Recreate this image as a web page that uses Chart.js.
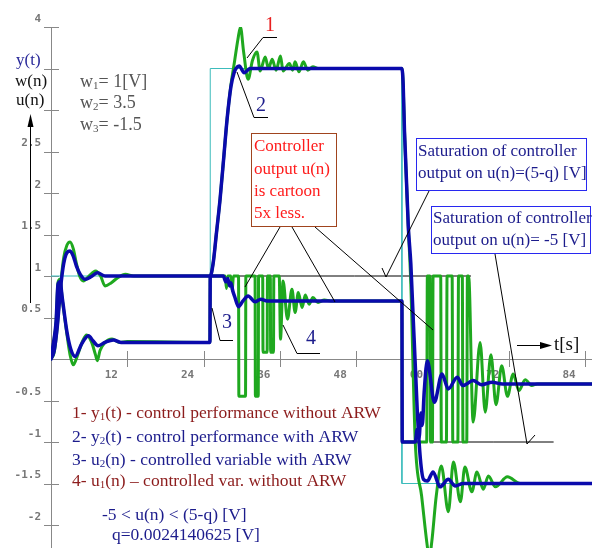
<!DOCTYPE html>
<html>
<head>
<title>ARW step response</title>
<script src="https://cdn.jsdelivr.net/npm/chart.js"></script>
<style>
  body { margin: 0; background: #fff; }
  canvas { display: block; }
</style>
</head>
<body>
<canvas id="arwChart" width="592" height="548"></canvas>
<script>
// setpoint w(n)
const wT = [0, 25.05, 25.05, 55.2, 55.2, 85.1];
const wV = [1, 1, 3.5, 3.5, -1.5, -1.5];

// y1(t) - without ARW (green)
const y1T = [0, 0.5, 1, 1.5, 2, 2.5, 3, 3.5, 4, 4.5, 5.1, 6, 7, 7.8, 8.5, 9.5, 10.5, 11.7, 13, 25.05,
  25.5, 26, 26.6, 27.2, 27.7, 28.3, 28.9, 29.4, 29.8, 30.3, 31, 31.7, 32.4, 32.9, 33.7, 34.2, 34.8, 35.4,
  36.1, 36.5, 37.5, 38, 38.4, 39, 39.7, 40.4, 41.2, 42, 55.2, 55.4, 55.6, 56.2, 56.6, 57.3, 58.3, 59.2,
  59.5, 59.9, 60.6, 61.4, 62.5, 63.3, 64.4, 65.1, 66.2, 67, 68, 68.8, 69.9, 71.8, 73.8, 85.1];
const y1V = [0, 0.08, 0.4, 0.88, 1.22, 1.37, 1.41, 1.33, 1.15, 1.0, 0.94, 1.0, 1.06, 1.0, 0.88, 0.92, 0.98, 1.02, 1.0, 1.0,
  1.15, 1.5, 1.93, 2.45, 2.89, 3.3, 3.6, 3.85, 4.0, 3.7, 3.37, 3.6, 3.7, 3.47, 3.64, 3.5, 3.61, 3.48,
  3.65, 3.47, 3.56, 3.48, 3.58, 3.46, 3.58, 3.48, 3.52, 3.5, 3.5, 3.3, 2.75, 1.6, 0.9, -1.0, -1.65, -2.26,
  -2.4, -2.2, -1.65, -1.29, -1.84, -1.24, -1.72, -1.3, -1.6, -1.36, -1.57, -1.41, -1.54, -1.42, -1.5, -1.5];

// y2(t) - with ARW (blue)
const y2T = [0, 0.5, 1, 1.5, 2, 2.5, 3, 3.5, 4, 4.6, 5.4, 6.3, 7.3, 8.5, 10, 12, 25.05,
  25.5, 26, 26.6, 27.2, 27.7, 28.3, 28.8, 29.1, 29.6, 30.4, 31.3, 55.2, 55.4, 55.6, 56.2, 56.6, 57.6,
  58.1, 58.6, 59.2, 60.1, 61.2, 62.5, 63.6, 64.8, 85.1];
const y2V = [0, 0.1, 0.4, 0.85, 1.15, 1.28, 1.3, 1.24, 1.12, 1.02, 0.96, 0.99, 1.04, 1.0, 1.0, 1.0, 1.0,
  1.15, 1.5, 1.93, 2.45, 2.89, 3.28, 3.45, 3.5, 3.53, 3.45, 3.5, 3.5, 3.3, 2.75, 1.6, 1.15, -0.6,
  -1.2, -1.45, -1.47, -1.36, -1.54, -1.45, -1.53, -1.5, -1.5];

// u1(n)/5 - without ARW (green)
const u1T = [0, 0.4, 0.8, 1.1, 1.4, 1.8, 2.5, 3, 3.5, 4.2, 5, 5.6, 6.4, 7, 7.3, 7.7, 8.5, 9.6, 10.8, 12, 25.0,
  25.05, 27.4, 27.6, 27.8, 28.3, 28.5, 28.7, 29.5, 29.55, 30.6, 30.65, 32.1, 32.15, 32.6, 32.65, 33.3,
  33.35, 34.0, 34.05, 34.5, 34.55, 35.0, 35.05, 35.9, 36.1, 36.5, 37.2, 37.9, 38.4, 38.9, 39.5, 40, 40.6,
  41.2, 42, 43, 44, 55.2, 55.25, 59.1, 59.2, 59.6, 59.7, 60.0, 60.1, 61.3, 61.4, 62.2, 62.3, 63.1, 63.2,
  64.0, 64.1, 64.7, 64.8, 65.4, 65.5, 65.7, 66.4, 67.5, 68.3, 69.2, 70, 70.9, 71.8, 72.7, 73.6, 74.6,
  75.6, 76.5, 85.1];
const u1V = [0.02, 0.2, 0.45, 0.92, 0.96, 0.7, 0.3, 0.05, -0.07, 0.05, 0.22, 0.29, 0.2, 0.05, -0.02, 0.1, 0.2, 0.24, 0.2, 0.21, 0.2,
  1.0, 1.0, 0.85, 1.0, 1.0, 0.82, 1.0, 1.0, -0.45, -0.45, 1.0, 1.0, -0.45, -0.45, 1.0, 1.0,
  0.08, 0.08, 1.0, 1.0, 0.08, 0.08, 1.0, 1.0, 0.24, 0.94, 0.48, 0.84, 0.56, 0.8, 0.62, 0.77, 0.66,
  0.74, 0.68, 0.71, 0.7, 0.7, -1.0, -1.0, 1.0, 1.0, -1.0, -1.0, 1.0, 1.0, -1.0, -1.0, 1.0, 1.0, -1.0,
  -1.0, 1.0, 1.0, -1.0, -1.0, 1.0, 1.0, -0.76, 0.2, -0.64, 0.05, -0.55, -0.08, -0.45, -0.18, -0.38, -0.25,
  -0.32, -0.3, -0.3];

// u2(n)/5 - with ARW (blue)
const u2T = [0, 0.4, 0.8, 1.1, 1.4, 1.8, 2.5, 3.1, 3.8, 4.8, 5.9, 6.6, 7.4, 8.5, 9.8, 11, 25.0,
  25.05, 27.1, 27.5, 27.8, 28.1, 28.3, 28.6, 28.9, 29.5, 30.2, 31, 32.1, 33, 34, 55.2, 55.25, 57.3,
  57.6, 57.9, 58.2, 58.4, 58.7, 59.2, 60.3, 61.5, 62.5, 63.9, 64.8, 66.4, 67.7, 69.4, 71, 85.1];
const u2V = [0.02, 0.2, 0.45, 0.9, 0.93, 0.72, 0.33, 0.12, 0.03, 0.18, 0.28, 0.22, 0.16, 0.2, 0.23, 0.2, 0.2,
  1.0, 1.0, 0.93, 0.97, 0.88, 0.92, 0.82, 0.75, 0.63, 0.7, 0.76, 0.69, 0.72, 0.7, 0.7, -1.0, -1.0,
  -0.85, -0.95, -0.65, -0.8, -0.4, -0.02, -0.52, -0.18, -0.36, -0.22, -0.32, -0.26, -0.31, -0.28, -0.3, -0.3];

// saturation marker lines (u = 5-q and u = -5, scaled 1/5)
const satHiT = [29.5, 66.0];
const satHiV = [1, 1];
const satLoT = [60.1, 79.0];
const satLoV = [-1, -1];

const yLabelValues = [4, 2.5, 2, 1.5, 1, 0.5, -0.5, -1, -1.5, -2];

const pts = (t, v) => t.map((x, i) => ({ x: x, y: v[i] }));

const GREEN = '#1fa81f';
const BLUE = '#0a0aac';
const NAVY = '#1c1c8c';
const DARKRED = '#8c1c1c';
const SERIF = '"Liberation Serif", "Times New Roman", serif';

// small helper for text with subscripts; parts: strings, or [string] for subscript
function rich(ctx, parts, x, y, size, color) {
  ctx.fillStyle = color;
  ctx.textBaseline = 'middle';
  ctx.textAlign = 'left';
  let cx = x;
  parts.forEach(p => {
    const sub = Array.isArray(p);
    const s = sub ? p[0] : p;
    ctx.font = (sub ? Math.round(size * 0.62) : size) + 'px ' + SERIF;
    ctx.fillText(s, cx, sub ? y + size * 0.22 : y);
    cx += ctx.measureText(s).width;
  });
}

function line(ctx, a) {
  ctx.beginPath();
  ctx.moveTo(a[0], a[1]);
  for (let i = 2; i < a.length; i += 2) ctx.lineTo(a[i], a[i + 1]);
  ctx.stroke();
}

const axisTicks = {
  id: 'axisTicks',
  beforeDatasetsDraw(chart) {
    const { ctx, scales: { x, y } } = chart;
    const x0 = x.getPixelForValue(0), y0 = y.getPixelForValue(0);
    ctx.save();
    ctx.strokeStyle = '#888';
    ctx.lineWidth = 1;
    x.ticks.forEach(t => {
      if (t.value === 0) return;
      const px = Math.round(x.getPixelForValue(t.value)) + 0.5;
      line(ctx, [px, y0 - 8, px, y0 + 8]);
    });
    y.ticks.forEach(t => {
      if (t.value === 0) return;
      const py = Math.round(y.getPixelForValue(t.value)) + 0.5;
      line(ctx, [x0 - 7, py, x0 + 8, py]);
    });
    ctx.restore();
  }
};

const notes = {
  id: 'notes',
  afterDraw(chart) {
    const ctx = chart.ctx;
    ctx.save();
    ctx.lineWidth = 1;
    ctx.strokeStyle = '#000';

    // y-axis caption and arrow
    rich(ctx, ['y(t)'], 16, 61, 17, '#2a2a9a');
    rich(ctx, ['w(n)'], 15, 82, 17, '#111');
    rich(ctx, ['u(n)'], 16, 101, 17, '#111');
    line(ctx, [30.5, 303, 30.5, 122]);
    ctx.fillStyle = '#000';
    ctx.beginPath(); ctx.moveTo(30.5, 114); ctx.lineTo(27.5, 127); ctx.lineTo(33.5, 127); ctx.closePath(); ctx.fill();

    // setpoints
    rich(ctx, ['w', ['1'], '= 1[V]'], 80, 82, 18, '#555');
    rich(ctx, ['w', ['2'], '= 3.5'], 80, 103, 18, '#555');
    rich(ctx, ['w', ['3'], '= -1.5'], 80, 125, 18, '#555');

    // curve numbers with leaders
    rich(ctx, ['1'], 265, 26, 20, '#e82020');
    line(ctx, [277, 37.5, 263, 37.5, 247, 58]);
    rich(ctx, ['2'], 256, 106, 20, NAVY);
    line(ctx, [268, 117.5, 254, 117.5, 237, 72]);
    rich(ctx, ['3'], 222, 323, 20, NAVY);
    line(ctx, [233, 340.5, 220, 340.5, 212, 308]);
    rich(ctx, ['4'], 306, 339, 20, NAVY);
    line(ctx, [320, 353.5, 297, 353.5, 283, 325]);

    // controller box
    ctx.strokeStyle = '#a0441e';
    ctx.strokeRect(251.5, 133.5, 85, 93);
    ['Controller', 'output u(n)', 'is cartoon', '5x less.'].forEach((s, i) => {
      rich(ctx, [s], 254, [147, 170, 192, 214][i], 17, '#ff1c1c');
    });
    ctx.strokeStyle = '#000';
    line(ctx, [280, 227, 245, 287]);
    line(ctx, [292, 227, 335, 302]);
    line(ctx, [315, 227, 433, 330]);

    // saturation boxes
    ctx.strokeStyle = '#2828f0';
    ctx.strokeRect(416.5, 138.5, 170, 52);
    ctx.strokeRect(431.5, 206.5, 159, 47);
    rich(ctx, ['Saturation of controller'], 418, 152, 17, NAVY);
    rich(ctx, ['output on u(n)=(5-q) [V]'], 418, 174, 17, NAVY);
    rich(ctx, ['Saturation of controller'], 433, 219, 17, NAVY);
    rich(ctx, ['output on u(n)= -5 [V]'], 433, 241, 17, NAVY);
    ctx.strokeStyle = '#000';
    line(ctx, [429, 191, 386, 277, 382, 268]);
    line(ctx, [495, 254, 527, 444, 535, 435]);

    // time axis caption
    line(ctx, [517, 345.5, 544, 345.5]);
    ctx.fillStyle = '#000';
    ctx.beginPath(); ctx.moveTo(552, 345.5); ctx.lineTo(540, 342); ctx.lineTo(540, 349); ctx.closePath(); ctx.fill();
    rich(ctx, ['t[s]'], 554, 345, 19, '#111');

    // legend
    rich(ctx, ['1- y', ['1'], '(t) - control performance without ARW'], 72, 413, 17.5, DARKRED);
    rich(ctx, ['2- y', ['2'], '(t) - control performance with ARW'], 72, 437, 17.5, NAVY);
    rich(ctx, ['3- u', ['2'], '(n) - controlled variable with ARW'], 72, 460, 17.5, NAVY);
    rich(ctx, ['4- u', ['1'], '(n) \u2013 controlled var. without ARW'], 72, 481, 17.5, DARKRED);
    rich(ctx, ['-5 < u(n) < (5-q) [V]'], 102, 515, 17.5, NAVY);
    rich(ctx, ['q=0.0024140625 [V]'], 112, 535, 17.5, NAVY);
    ctx.restore();
  }
};

const tickFont = { family: '"DejaVu Sans Mono", monospace', size: 11, weight: 'bold' };

new Chart(document.getElementById('arwChart'), {
  type: 'line',
  data: {
    datasets: [
      { data: pts(y2T, y2V), borderColor: BLUE, borderWidth: 3.5, order: 1 },
      { data: pts(u2T, u2V), borderColor: BLUE, borderWidth: 3.5, order: 1 },
      { data: pts(y1T, y1V), borderColor: GREEN, borderWidth: 3, order: 2 },
      { data: pts(u1T, u1V), borderColor: GREEN, borderWidth: 3, order: 2 },
      { data: pts(wT, wV), borderColor: '#3cbcbc', borderWidth: 1, cubicInterpolationMode: 'default', tension: 0, order: 3 },
      { data: pts(satHiT, satHiV), borderColor: '#000', borderWidth: 1, order: 3 },
      { data: pts(satLoT, satLoV), borderColor: '#000', borderWidth: 1, order: 3 }
    ]
  },
  options: {
    responsive: false,
    animation: false,
    layout: { padding: { left: 0, top: 27, right: 0, bottom: 0 } },
    elements: {
      point: { radius: 0 },
      line: { cubicInterpolationMode: 'monotone', borderJoinStyle: 'round', borderCapStyle: 'round' }
    },
    plugins: { legend: { display: false }, tooltip: { enabled: false } },
    scales: {
      x: {
        type: 'linear', min: 0, max: 85.1,
        position: { y: 0 },
        grid: { display: false, drawTicks: false },
        border: { display: true, color: '#888' },
        ticks: {
          stepSize: 12, includeBounds: false, padding: 10, labelOffset: -16,
          color: '#777', font: tickFont,
          callback: v => (v === 0 ? '' : String(v))
        },
        afterFit: s => { s.paddingLeft = 0; s.paddingRight = 0; }
      },
      y: {
        type: 'linear', min: -2.277, max: 4,
        position: 'left',
        grid: { display: false, drawTicks: false },
        border: { display: true, color: '#888' },
        ticks: {
          stepSize: 0.5, includeBounds: false, padding: 10, labelOffset: -8,
          color: '#777', font: tickFont,
          callback: v => (yLabelValues.includes(v) ? String(v) : '')
        },
        afterFit: s => { s.width = 51; s.paddingTop = 0; s.paddingBottom = 0; }
      }
    }
  },
  plugins: [axisTicks, notes]
});
</script>
</body>
</html>
